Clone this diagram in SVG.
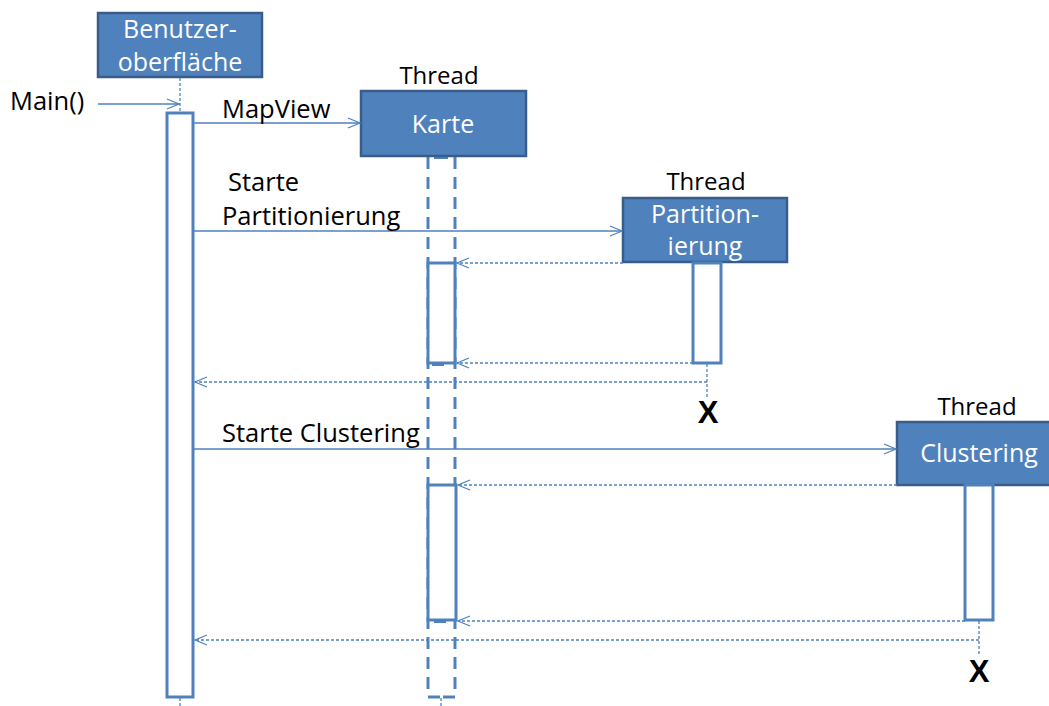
<svg xmlns="http://www.w3.org/2000/svg" width="1049" height="706" viewBox="0 0 1049 706">
<style>
.box{fill:#4F81BD;stroke:#385D8A;stroke-width:2.5}
.bt{font-family:"Open Sans",sans-serif;font-size:25px;fill:#fff;text-anchor:middle}
.lbl{font-family:"Open Sans",sans-serif;font-size:25.5px;fill:#000}
.thr{font-family:"Open Sans",sans-serif;font-size:24px;fill:#000;text-anchor:middle}
.x{font-family:"Liberation Sans",sans-serif;font-weight:bold;font-size:31px;fill:#000;text-anchor:middle}
.act{fill:#fff;stroke:#4F81BD;stroke-width:3}
.msg{fill:none;stroke:#4F81BD;stroke-width:1.3}
.ret{fill:none;stroke:#4F81BD;stroke-width:1.3;stroke-dasharray:3,2}
.life{fill:none;stroke:#4F81BD;stroke-width:1.3;stroke-dasharray:3,2}
.klife{fill:none;stroke:#4F81BD;stroke-width:3;stroke-dasharray:12,8}
</style>
<defs>
<marker id="open" markerWidth="14" markerHeight="12" refX="13" refY="6" orient="auto" markerUnits="userSpaceOnUse">
<path d="M1,1 L13,6 L1,11" fill="none" stroke="#4F81BD" stroke-width="1.2"/>
</marker>
</defs>

<g id="benutzer">
<rect class="box" x="98" y="13" width="164" height="64"/>
<text class="bt" x="180" y="38">Benutzer-</text>
<text class="bt" x="180" y="71">oberfläche</text>
<line class="life" x1="180" y1="78" x2="180" y2="113"/>
<rect class="act" x="167" y="113" width="26" height="584"/>
<line class="life" x1="180" y1="698" x2="180" y2="706"/>
</g>

<g id="karte">
<text class="thr" x="439" y="84">Thread</text>
<path class="klife" d="M428,157 V697 H441 M455,157 V697 H441"/>
<rect x="434" y="156" width="14" height="3" fill="#4F81BD"/>
<rect class="box" x="361" y="91" width="165" height="65"/>
<text class="bt" x="443" y="133">Karte</text>
<rect class="act" x="428" y="263" width="27" height="100"/>
<rect x="432" y="362" width="12" height="4" fill="#4F81BD"/>
<rect class="act" x="428" y="485" width="28" height="135"/>
<rect x="434" y="619" width="12" height="4" fill="#4F81BD"/>
<line class="life" x1="441" y1="698" x2="441" y2="706"/>
</g>

<g id="partitionierung">
<text class="thr" x="706" y="190">Thread</text>
<rect class="box" x="623" y="198" width="164" height="64"/>
<text class="bt" x="705" y="223">Partition-</text>
<text class="bt" x="705" y="255">ierung</text>
<rect class="act" x="693" y="263" width="28" height="100"/>
<line class="life" x1="707" y1="364" x2="707" y2="398"/>
<text class="x" x="708" y="423">X</text>
</g>

<g id="clustering">
<text class="thr" x="977" y="415">Thread</text>
<rect class="box" x="897" y="422" width="155" height="63"/>
<text class="bt" x="979" y="462">Clustering</text>
<rect class="act" x="965" y="485" width="28" height="135"/>
<line class="life" x1="979" y1="621" x2="979" y2="656"/>
<text class="x" x="979" y="682">X</text>
</g>

<g id="connectors">
<line class="msg" x1="98" y1="104" x2="179" y2="104" marker-end="url(#open)"/>
<line class="msg" x1="194" y1="123" x2="360" y2="123" marker-end="url(#open)"/>
<line class="msg" x1="194" y1="231" x2="622" y2="231" marker-end="url(#open)"/>
<line class="ret" x1="623" y1="263" x2="457" y2="263" marker-end="url(#open)"/>
<line class="ret" x1="693" y1="363" x2="457" y2="363" marker-end="url(#open)"/>
<line class="ret" x1="707" y1="382" x2="195" y2="382" marker-end="url(#open)"/>
<line class="msg" x1="194" y1="449" x2="896" y2="449" marker-end="url(#open)"/>
<line class="ret" x1="897" y1="485" x2="458" y2="485" marker-end="url(#open)"/>
<line class="ret" x1="965" y1="621" x2="458" y2="621" marker-end="url(#open)"/>
<line class="ret" x1="979" y1="640" x2="195" y2="640" marker-end="url(#open)"/>
</g>

<g id="labels">
<text class="lbl" x="10" y="110">Main()</text>
<text class="lbl" x="222" y="118">MapView</text>
<text class="lbl" x="228" y="191">Starte</text>
<text class="lbl" x="222" y="225">Partitionierung</text>
<text class="lbl" x="222" y="442">Starte Clustering</text>
</g>
</svg>
